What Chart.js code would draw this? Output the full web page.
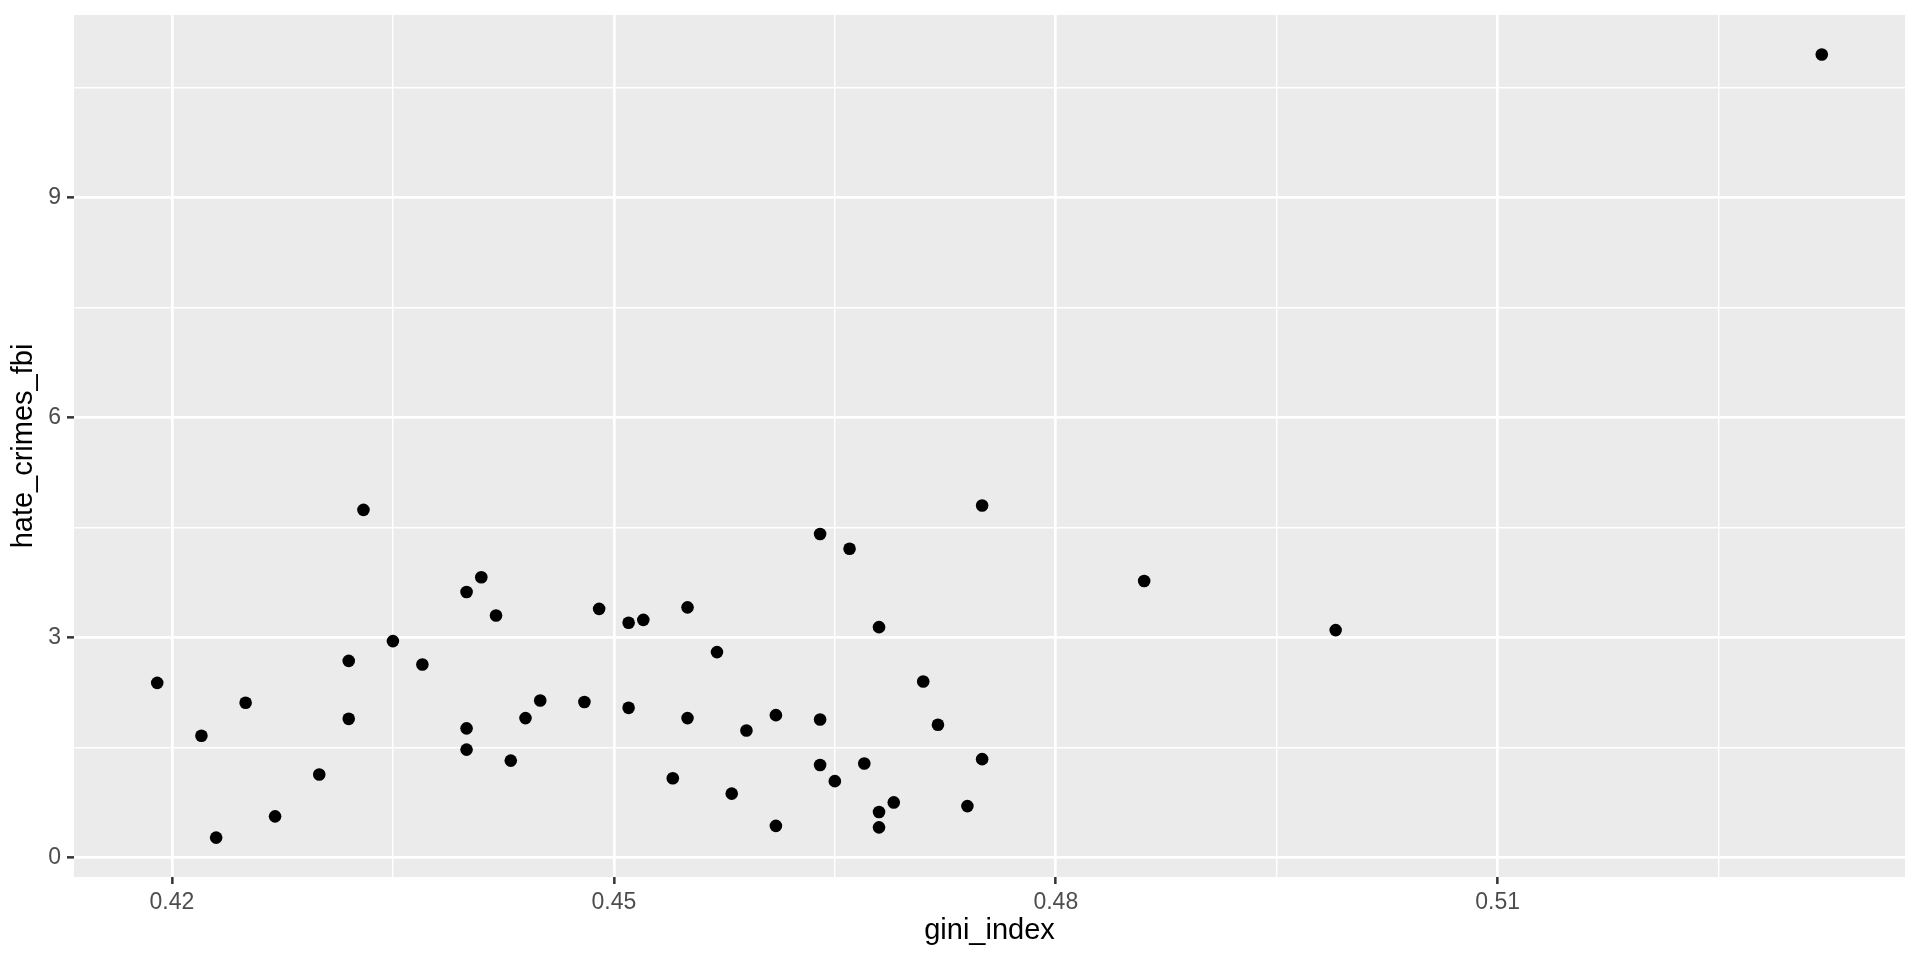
<!DOCTYPE html>
<html lang="en">
<head>
    <meta charset="UTF-8">
    <title>gini_index vs hate_crimes_fbi</title>
    <script src="https://cdn.jsdelivr.net/npm/chart.js"></script>
    <style>
        body { margin: 0; background: #ffffff; }
        #chart { display: block; }
    </style>
</head>
<body>
    <canvas id="chart" width="1920" height="960"></canvas>
    <script>
        // one value per state (Hawaii has no FBI figure, so it is left out)
        const giniIndex = [
            0.472, 0.422, 0.455, 0.458, 0.471, 0.457, 0.486, 0.440, 0.532, 0.474,
            0.468, 0.432, 0.465, 0.440, 0.427, 0.445, 0.466, 0.475, 0.437, 0.443,
            0.475, 0.451, 0.440, 0.468, 0.455, 0.435, 0.432, 0.448, 0.425, 0.464,
            0.464, 0.499, 0.464, 0.433, 0.452, 0.454, 0.449, 0.461, 0.467, 0.461,
            0.442, 0.468, 0.469, 0.419, 0.444, 0.459, 0.441, 0.451, 0.430, 0.423
        ];
        const hateCrimesFbi = [
            1.81, 1.66, 3.41, 0.87, 2.40, 2.80, 3.77, 1.47, 10.95, 0.70,
            0.41, 1.89, 1.04, 1.76, 0.56, 2.14, 4.21, 1.34, 2.63, 1.32,
            4.80, 3.20, 3.62, 0.62, 1.90, 2.95, 2.68, 2.12, 2.11, 4.41,
            1.88, 3.10, 1.26, 4.74, 3.24, 1.08, 3.39, 0.43, 1.28, 1.94,
            3.30, 3.14, 0.75, 2.38, 1.90, 1.73, 3.82, 2.04, 1.13, 0.27
        ];

        const xMajor = [0.42, 0.45, 0.48, 0.51];
        const xMinor = [0.435, 0.465, 0.495, 0.525];
        const yMajor = [0, 3, 6, 9];
        const yMinor = [1.5, 4.5, 7.5, 10.5];

        const xMin = 0.41335, xMax = 0.53765;
        const yMin = -0.267, yMax = 11.488;

        const points = giniIndex.map((g, i) => ({ x: g, y: hateCrimesFbi[i] }));

        const tickFont = { family: 'Liberation Sans, Arial, sans-serif', size: 23 };
        const titleFont = { family: 'Liberation Sans, Arial, sans-serif', size: 29 };

        function isMajor(list, v) {
            return list.some(m => Math.abs(m - v) < 1e-9);
        }

        const panelBg = {
            id: 'panelBg',
            beforeDraw(chart) {
                const a = chart.chartArea;
                const ctx = chart.ctx;
                ctx.save();
                ctx.fillStyle = '#EBEBEB';
                ctx.fillRect(a.left, a.top, a.right - a.left, a.bottom - a.top);
                ctx.restore();
            }
        };

        function axisGrid(major) {
            return {
                color: '#FFFFFF',
                lineWidth: ctx => isMajor(major, ctx.tick.value) ? 2.7 : 1.4,
                tickColor: ctx => isMajor(major, ctx.tick.value) ? '#333333' : 'rgba(0,0,0,0)',
                tickWidth: 2.5,
                tickLength: 7,
                drawTicks: true
            };
        }

        new Chart(document.getElementById('chart'), {
            type: 'scatter',
            data: {
                datasets: [{
                    data: points,
                    backgroundColor: '#000000',
                    borderWidth: 0,
                    pointRadius: 6.3,
                    pointHoverRadius: 6.3
                }]
            },
            plugins: [panelBg],
            options: {
                responsive: false,
                animation: false,
                events: [],
                layout: { padding: { top: 15, right: 15, left: 0, bottom: 0 } },
                plugins: {
                    legend: { display: false },
                    tooltip: { enabled: false }
                },
                scales: {
                    x: {
                        type: 'linear',
                        min: xMin,
                        max: xMax,
                        border: { display: false },
                        grid: axisGrid(xMajor),
                        afterBuildTicks: scale => {
                            scale.ticks = xMajor.concat(xMinor).sort((a, b) => a - b).map(v => ({ value: v }));
                        },
                        afterFit: scale => {
                            scale.height = 83;
                            scale.paddingLeft = 0;
                            scale.paddingRight = 0;
                        },
                        ticks: {
                            autoSkip: false,
                            maxRotation: 0,
                            padding: 5,
                            color: '#4D4D4D',
                            font: tickFont,
                            callback: v => isMajor(xMajor, v) ? v.toFixed(2) : ''
                        },
                        title: {
                            display: true,
                            text: 'gini_index',
                            color: '#000000',
                            font: titleFont,
                            padding: { top: 0, bottom: 12 }
                        }
                    },
                    y: {
                        type: 'linear',
                        min: yMin,
                        max: yMax,
                        border: { display: false },
                        grid: axisGrid(yMajor),
                        afterBuildTicks: scale => {
                            scale.ticks = yMajor.concat(yMinor).sort((a, b) => a - b).map(v => ({ value: v }));
                        },
                        afterFit: scale => {
                            scale.width = 74;
                            scale.paddingTop = 0;
                            scale.paddingBottom = 0;
                        },
                        ticks: {
                            autoSkip: false,
                            padding: 6,
                            color: '#4D4D4D',
                            font: tickFont,
                            callback: v => isMajor(yMajor, v) ? String(v) : ''
                        },
                        title: {
                            display: true,
                            text: 'hate_crimes_fbi',
                            color: '#000000',
                            font: titleFont,
                            padding: { top: 7, bottom: 0 }
                        }
                    }
                }
            }
        });
    </script>
</body>
</html>
